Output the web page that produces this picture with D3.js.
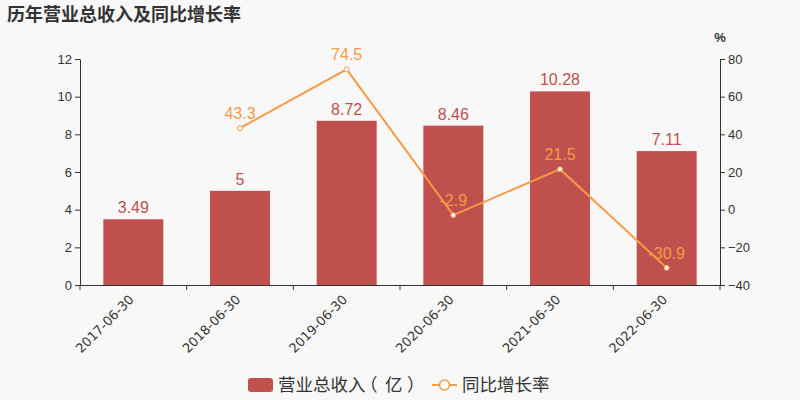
<!DOCTYPE html>
<html>
<head>
<meta charset="utf-8">
<script src="https://cdn.jsdelivr.net/npm/d3@7"></script>
<style>
  body { margin: 0; background: #f8f8f8; }
  svg { display: block; font-family: "Noto Sans CJK SC", "DejaVu Sans", sans-serif; }
</style>
</head>
<body>
<div id="chart"></div>
<script>
'use strict'

// the data
var categories = ['2017-06-30', '2018-06-30', '2019-06-30', '2020-06-30', '2021-06-30', '2022-06-30']
var revenue = [3.49, 5, 8.72, 8.46, 10.28, 7.11]
var growth = [null, 43.3, 74.5, -2.9, 21.5, -30.9]
var leftTicks = [0, 2, 4, 6, 8, 10, 12]
var rightTicks = [-40, -20, 0, 20, 40, 60, 80]

var W = 800, H = 400
var margin = { top: 59, right: 80, bottom: 115, left: 80 }
var width = W - margin.left - margin.right
var height = H - margin.top - margin.bottom

var barColor = '#c0504d'
var lineColor = '#f89a46'
var axisColor = '#333'
var numFont = '"Liberation Sans", Arial, sans-serif'

var svg = d3.select('#chart').append('svg')
    .attr('width', W)
    .attr('height', H)

svg.append('rect').attr('width', W).attr('height', H).attr('fill', '#f8f8f8')

// title
svg.append('text')
    .attr('x', 7).attr('y', 21)
    .attr('font-size', 18).attr('font-weight', 'bold')
    .attr('fill', '#333')
    .text('历年营业总收入及同比增长率')

var g = svg.append('g').attr('transform', 'translate(' + margin.left + ',' + margin.top + ')')

var x = d3.scaleBand().domain(categories).range([0, width])
var yL = d3.scaleLinear().domain([0, 12]).range([height, 0])
var yR = d3.scaleLinear().domain([-40, 80]).range([height, 0])

// bars
var barW = 60
g.selectAll('.bar').data(revenue).enter().append('rect')
    .attr('x', (d, i) => x(categories[i]) + x.bandwidth() / 2 - barW / 2)
    .attr('y', d => yL(d))
    .attr('width', barW)
    .attr('height', d => height - yL(d))
    .attr('fill', barColor)

g.selectAll('.barlab').data(revenue).enter().append('text')
    .attr('x', (d, i) => x(categories[i]) + x.bandwidth() / 2)
    .attr('y', d => yL(d) - 6)
    .attr('text-anchor', 'middle')
    .attr('font-size', 16)
    .attr('font-family', numFont)
    .attr('fill', barColor)
    .text(d => d)

// axes
var axL = g.append('g')
    .call(d3.axisLeft(yL).tickValues(leftTicks).tickSize(5).tickSizeOuter(0))
var axR = g.append('g')
    .attr('transform', 'translate(' + width + ',0)')
    .call(d3.axisRight(yR).tickValues(rightTicks).tickSize(5).tickSizeOuter(0))
var axB = g.append('g')
    .attr('transform', 'translate(0,' + height + ')')
    .call(d3.axisBottom(x).tickSize(0).tickSizeOuter(0))

// category boundary ticks like the reference
axB.selectAll('.tick line').remove()
var bounds = categories.map(c => x(c)).concat([width])
axB.selectAll('.bound').data(bounds).enter().append('line')
    .attr('x1', d => d).attr('x2', d => d)
    .attr('y1', 0).attr('y2', 5)
    .attr('stroke', axisColor)

;[axL, axR, axB].forEach(a => {
    a.selectAll('path, line').attr('stroke', axisColor)
    a.selectAll('text').attr('fill', '#333').attr('font-size', 13)
        .attr('font-family', numFont)
})
axL.selectAll('.tick text').attr('x', -8)
axR.selectAll('.tick text').attr('x', 8)

axB.selectAll('.tick text')
    .attr('transform', 'translate(-4,10) rotate(-45)')
    .attr('text-anchor', 'end')
    .attr('dy', '0.35em')
    .attr('font-family', '"DejaVu Sans", sans-serif')

svg.append('text')
    .attr('x', W - margin.right).attr('y', 42)
    .attr('text-anchor', 'middle')
    .attr('font-size', 13).attr('font-weight', 'bold')
    .attr('font-family', numFont)
    .attr('fill', '#333')
    .text('%')

// growth line
var pts = growth.map((v, i) => ({ c: categories[i], v: v })).filter(d => d.v !== null)
var line = d3.line()
    .x(d => x(d.c) + x.bandwidth() / 2)
    .y(d => yR(d.v))

g.append('path')
    .datum(pts)
    .attr('fill', 'none')
    .attr('stroke', lineColor)
    .attr('stroke-width', 2)
    .attr('d', line)

g.selectAll('.pt').data(pts).enter().append('circle')
    .attr('cx', d => x(d.c) + x.bandwidth() / 2)
    .attr('cy', d => yR(d.v))
    .attr('r', 2.5)
    .attr('fill', '#fff')
    .attr('stroke', lineColor)
    .attr('stroke-width', 1)

g.selectAll('.ptlab').data(pts).enter().append('text')
    .attr('x', d => x(d.c) + x.bandwidth() / 2)
    .attr('y', d => yR(d.v) - 9)
    .attr('text-anchor', 'middle')
    .attr('font-size', 16)
    .attr('font-family', numFont)
    .attr('fill', lineColor)
    .text(d => d.v)

// legend
var leg = svg.append('g').attr('transform', 'translate(0,385)')
leg.append('rect')
    .attr('x', 248).attr('y', -7)
    .attr('width', 25).attr('height', 14)
    .attr('rx', 3)
    .attr('fill', barColor)
// full-width brackets placed one by one so they keep their wide spacing
var legParts = [['营业总收入', 278], ['（', 360], ['亿', 385], ['）', 407]]
legParts.forEach(p => {
    leg.append('text')
        .attr('x', p[1]).attr('y', 0)
        .attr('dy', '0.35em')
        .attr('font-size', 17.5).attr('fill', '#333')
        .text(p[0])
})
leg.append('line')
    .attr('x1', 432).attr('x2', 457)
    .attr('y1', 0).attr('y2', 0)
    .attr('stroke', lineColor).attr('stroke-width', 2)
leg.append('circle')
    .attr('cx', 444.5).attr('cy', 0).attr('r', 5)
    .attr('fill', '#fff').attr('stroke', lineColor).attr('stroke-width', 1.5)
leg.append('text')
    .attr('x', 462).attr('y', 0)
    .attr('dy', '0.35em')
    .attr('font-size', 17.5).attr('fill', '#333')
    .text('同比增长率')
</script>
</body>
</html>
